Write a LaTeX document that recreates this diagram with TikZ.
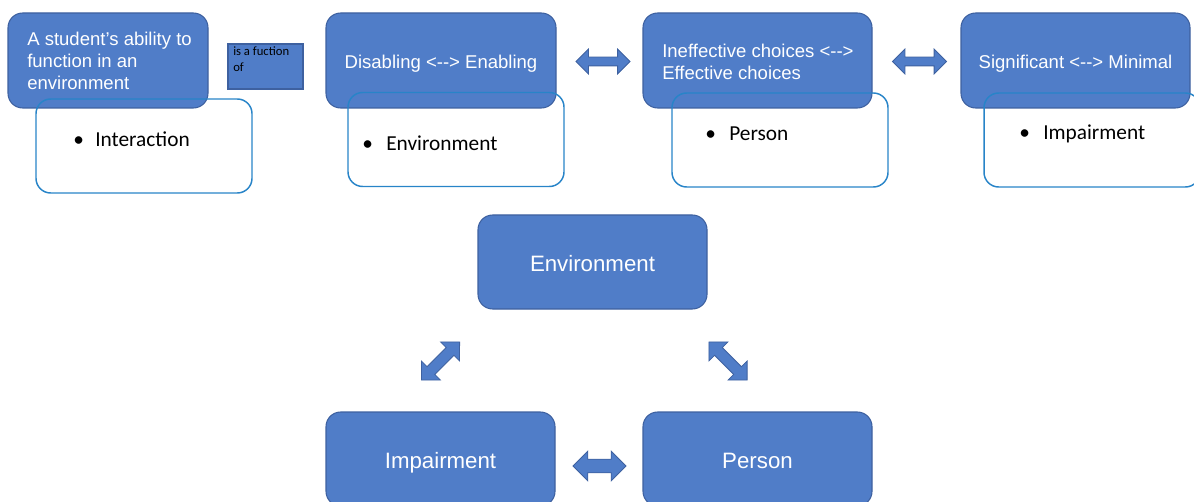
\documentclass[tikz,border=0pt]{standalone}
\usepackage{fontspec}
\setmainfont{Liberation Sans}
\newfontfamily\carlito{Carlito}
\usetikzlibrary{shapes.arrows}
\definecolor{boxblue}{RGB}{80,125,200}
\definecolor{boxedge}{RGB}{62,97,160}
\definecolor{noteedge}{RGB}{40,132,200}
% a two-way arrow written with plain hyphens
\newcommand\twoway{<\mbox{-}\mbox{-}>}

\begin{document}
\begin{tikzpicture}[x=0.75pt,y=-0.75pt,
  bluebox/.style={rounded corners=11pt, fill=boxblue, draw=boxedge, line width=0.8pt,
                  text=white, inner sep=0pt, minimum height=71.25pt},
  notebox/.style={rounded corners=11pt, draw=noteedge, line width=1.1pt, inner sep=0pt,
                  minimum width=162pt, minimum height=70.5pt},
  toptext/.style={text=white, inner sep=0pt, font=\fontsize{13.9}{16.5}\selectfont},
  centredtop/.style={toptext, text height=14.6pt, text depth=3pt},
  bigtext/.style={font=\fontsize{16.7}{20}\selectfont, text height=18.1pt, text depth=3.5pt},
  bullettext/.style={anchor=west, inner sep=0pt, font=\carlito\fontsize{16}{19}\selectfont},
  dblarrow/.style={double arrow, fill=boxblue, draw=boxedge, line width=0.6pt,
                   double arrow tip angle=90},
]
\useasboundingbox (0,0) rectangle (1194,502);

% top row of headline boxes
\node[bluebox, minimum width=150pt] (ability) at (108,60.5) {};
\node[toptext, anchor=west, align=left] (abilitytxt) at (27,61)
  {A student's ability to\\function in an\\environment};
\node[fill=boxblue, draw=boxedge, line width=0.8pt, inner sep=0pt,
      minimum width=56.25pt, minimum height=33.75pt] (fn) at (265.5,66.5) {};
\node[anchor=north west, inner sep=0pt, align=left,
      font=\carlito\fontsize{9.5}{12}\selectfont] (fntxt) at (233,46) {is a fuction\\of};

\node[bluebox, minimum width=172.5pt, centredtop] (enab) at (441,60.5) {Disabling \twoway{} Enabling};
\node[bluebox, minimum width=171.75pt] (choice) at (757.5,60.5) {};
\node[toptext, anchor=west, align=left] (choicetxt) at (662,61.5)
  {Ineffective choices \twoway\\Effective choices};
\node[bluebox, minimum width=171.75pt, centredtop] (signif) at (1075.5,60.5) {Significant \twoway{} Minimal};

% outlined notes lying over the headline boxes
\node[notebox] (n1) at (144,146) {};
\node[bullettext] (n1t) at (73,139.5) {\makebox[16.5pt][l]{•}Interaction};
\node[notebox] (n2) at (456,139.5) {};
\node[bullettext] (n2t) at (362,143.5) {\makebox[18pt][l]{•}Environment};
\node[notebox] (n3) at (780,140) {};
\node[bullettext] (n3t) at (705,134) {\makebox[18pt][l]{•}Person};
\node[notebox] (n4) at (1092,140) {};
\node[bullettext] (n4t) at (1019,134) {\makebox[18pt][l]{•}Impairment};

% arrows between the headline boxes
\node[dblarrow, minimum height=40.5pt, inner ysep=3pt, double arrow head extend=6pt] (a1) at (603,61.5) {};
\node[dblarrow, minimum height=40.5pt, inner ysep=3pt, double arrow head extend=6pt] (a2) at (919.5,61.5) {};

% triangle of factors
\node[bluebox, minimum width=171.75pt, minimum height=70.5pt, bigtext] (env) at (592.5,262) {Environment};
\node[bluebox, minimum width=171.75pt, minimum height=70.5pt, bigtext] (imp) at (440.5,459) {Impairment};
\node[bluebox, minimum width=171.75pt, minimum height=70.5pt, bigtext] (per) at (757.5,459) {Person};

\node[dblarrow, minimum height=40.5pt, inner ysep=3.8pt, double arrow head extend=6pt, rotate=45] (d1) at (440.5,361) {};
\node[dblarrow, minimum height=40.5pt, inner ysep=3.8pt, double arrow head extend=6pt, rotate=-45] (d2) at (728,361) {};
\node[dblarrow, minimum height=39.75pt, inner ysep=4.8pt, double arrow head extend=6pt] (a3) at (599.5,466) {};
\end{tikzpicture}
\end{document}
